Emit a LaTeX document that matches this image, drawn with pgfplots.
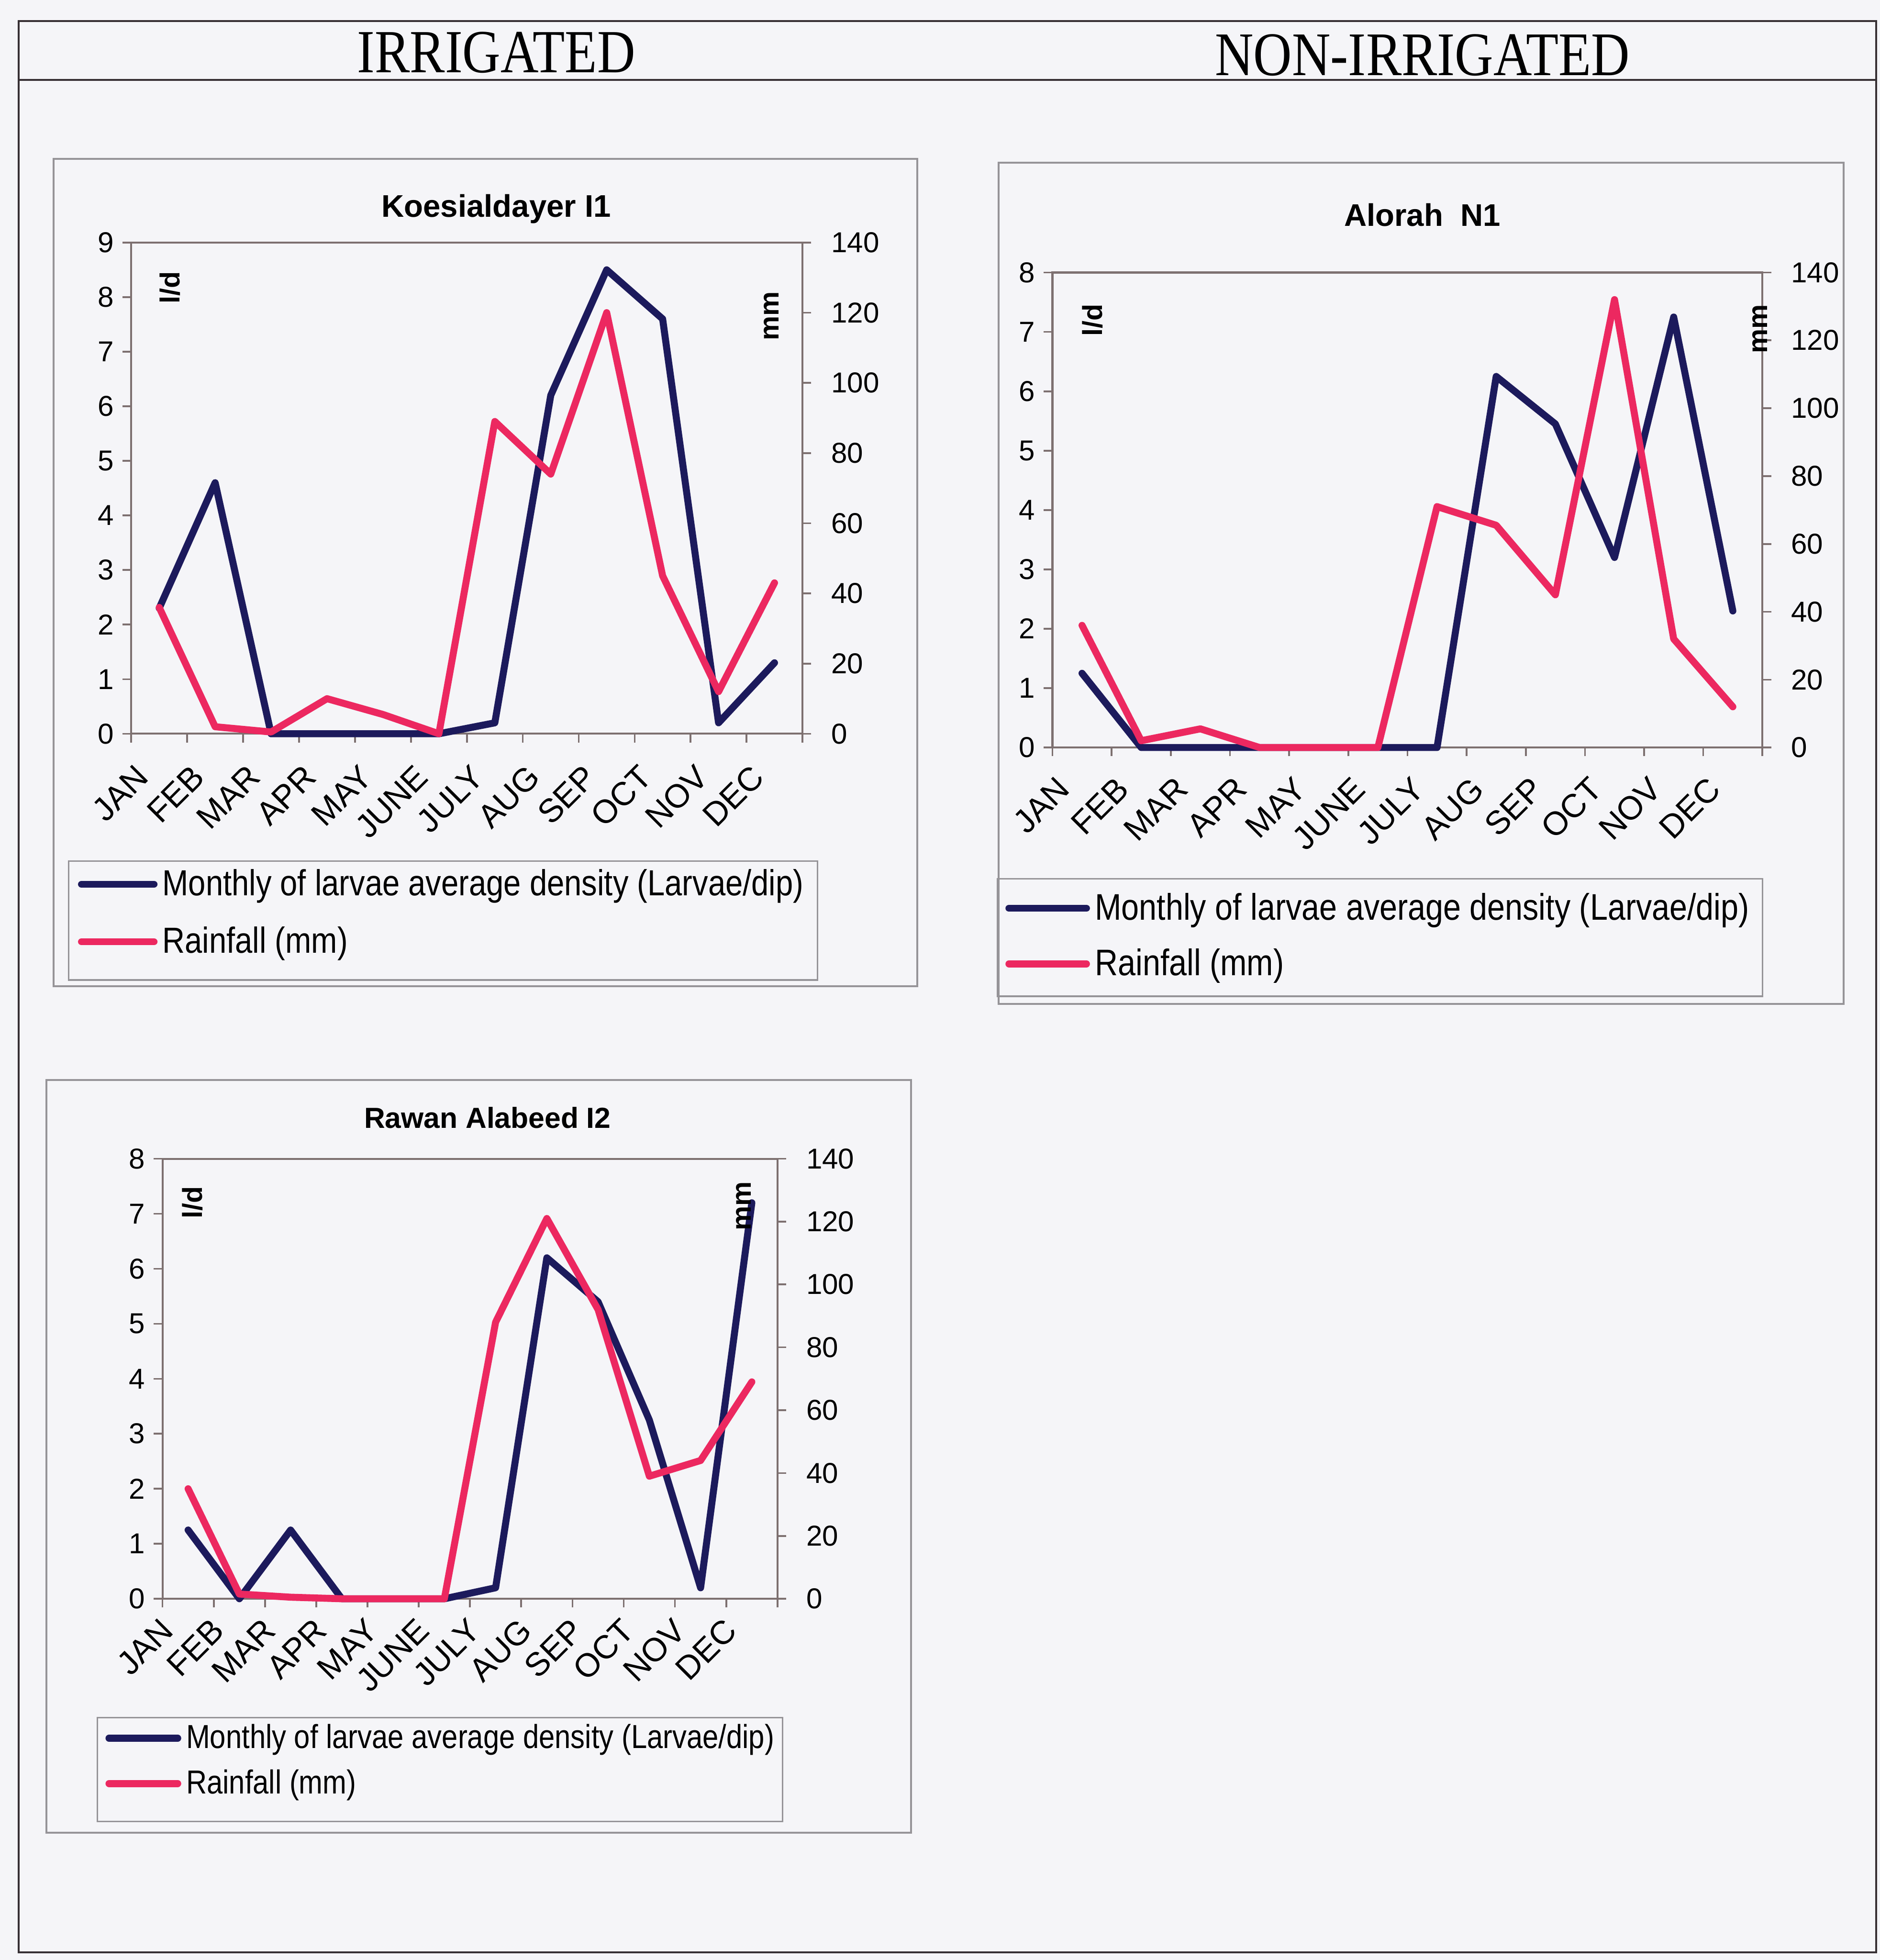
\documentclass[border=0pt]{standalone}
\usepackage{pgfplots}
\pgfplotsset{compat=1.18}
\usepackage{fontspec}
\setmainfont{Liberation Sans}
\newfontfamily\legendfont{Liberation Sans}[FakeStretch=0.86]
\newfontfamily\headfont{Liberation Serif}[FakeStretch=0.86]

\definecolor{pagebg}{RGB}{245,245,248}
\definecolor{density}{RGB}{28,26,92}
\definecolor{rain}{RGB}{236,40,96}
\definecolor{axisgray}{RGB}{125,112,112}
\definecolor{framegray}{RGB}{150,148,152}
\definecolor{rulegray}{RGB}{55,48,52}

\pgfplotsset{
  months/.style={
    scale only axis, anchor=south west, clip=false,
    xmin=-0.5, xmax=11.5,
    xtick={0,...,11},
    xticklabels={JAN,FEB,MAR,APR,MAY,JUNE,JULY,AUG,SEP,OCT,NOV,DEC},
    minor xtick={-0.5,0.5,...,11.5},
    major x tick style={draw=none},
    xtick pos=bottom, ytick pos=left, tick align=outside,
    major tick length=3.5pt, minor tick length=3.5pt,
    axis line style={axisgray, line width=0.8pt},
    tick style={axisgray, line width=0.7pt},
    xticklabel style={xshift=-10pt, yshift=-8pt, rotate=45, anchor=north east, inner sep=0pt,
      font=\fontsize{13.2}{14}\selectfont},
    yticklabel style={font=\fontsize{11.5}{12}\selectfont},
    /pgf/number format/assume math mode=true,
    ymin=0,
    title style={font=\bfseries\fontsize{12.5}{14}\selectfont, anchor=center, inner sep=0pt, yshift=-7pt},
    ylabel style={font=\bfseries\fontsize{11}{12}\selectfont, anchor=center, inner sep=0pt},
    legend cell align=left,
  },
  rainaxis/.style={
    scale only axis, anchor=south west, clip=false,
    xmin=-0.5, xmax=11.5,
    axis x line=none, axis y line*=right,
    ymin=0, ymax=140, ytick={0,20,...,140},
    tick align=outside, major tick length=3.5pt,
    axis line style={axisgray, line width=0.8pt},
    tick style={axisgray, line width=0.7pt},
    yticklabel style={font=\fontsize{11.5}{12}\selectfont, xshift=4.5pt},
    /pgf/number format/assume math mode=true,
    ylabel style={font=\bfseries\fontsize{11}{12}\selectfont, anchor=center, inner sep=0pt},
  },
  densityline/.style={density, line width=2.8pt, line join=round, line cap=round},
  rainline/.style={rain, line width=2.8pt, line join=round, line cap=round},
  legendbox/.style={draw=none, fill=none, inner xsep=3.5pt, inner ysep=5pt, cells={anchor=west}},
}

\begin{document}
\begin{tikzpicture}
% page, frame and column headings
\begin{scope}[x=0.5pt, y=-0.5pt]
  \fill[pagebg] (0,0) rectangle (1504,1568);
  \draw[rulegray, line width=0.8pt] (15,17) rectangle (1501,1562);
  \draw[rulegray, line width=0.8pt] (15,64) -- (1501,64);
  \node[font=\headfont\fontsize{24.5}{26}\selectfont, inner sep=0pt] at (397,42) {IRRIGATED};
  \node[font=\headfont\fontsize{24.8}{26}\selectfont, inner sep=0pt] at (1138,44) {NON-IRRIGATED};
  % chart frames
  \draw[framegray, line width=0.75pt] (43,127) rectangle (734,789);
  \draw[framegray, line width=0.75pt] (799,130) rectangle (1475,803);
  \draw[framegray, line width=0.75pt] (37,864) rectangle (729,1466);
  % legend frames
  \draw[framegray, line width=0.6pt] (55,689) rectangle (654,784);
  \draw[framegray, line width=0.6pt] (798,703) rectangle (1410,797);
  \draw[framegray, line width=0.6pt] (78,1374) rectangle (626,1457);
\end{scope}

% ---------------- Koesialdayer I1 ----------------
\begin{axis}[months, at={(52.5pt,-293.5pt)}, width=268.5pt, height=196.5pt,
  ymax=9, ytick={0,...,9},
  title={Koesialdayer I1}, title style={at={(0.5438,1.0738)}},
  ylabel={l/d}, ylabel style={at={(0.0577,0.908)}},
  legend image code/.code={\draw[#1] (0pt,0pt) -- (29pt,0pt);},
  legend style={legendbox, at={(-0.0931,-0.2392)}, anchor=north west, row sep=7pt,
    font=\legendfont\fontsize{14.5}{16}\selectfont},
]
\addplot[densityline] coordinates {(0,2.3) (1,4.6) (2,0) (3,0) (4,0) (5,0) (6,0.2) (7,6.2) (8,8.5) (9,7.6) (10,0.2) (11,1.3)};
\addlegendentry{Monthly of larvae average density (Larvae/dip)}
\addlegendimage{rainline}
\addlegendentry{Rainfall (mm)}
\end{axis}
\begin{axis}[rainaxis, at={(52.5pt,-293.5pt)}, width=268.5pt, height=196.5pt,
  ylabel={mm}, ylabel style={at={(0.9534,0.85)}}]
\addplot[rainline] coordinates {(0,36) (1,2) (2,0.5) (3,10) (4,5.5) (5,0) (6,89) (7,74) (8,120) (9,45) (10,12) (11,43)};
\end{axis}

% ---------------- Alorah N1 ----------------
\begin{axis}[months, at={(421pt,-299pt)}, width=284pt, height=190pt,
  ymax=8, ytick={0,...,8},
  xticklabel style={yshift=1pt},
  title={Alorah~~N1}, title style={at={(0.521,1.1263)}},
  ylabel={l/d}, ylabel style={at={(0.0563,0.9)}},
  legend image code/.code={\draw[#1] (0pt,0pt) -- (31pt,0pt);},
  legend style={legendbox, inner xsep=3pt, at={(-0.0775,-0.2684)}, anchor=north west, row sep=6pt,
    font=\legendfont\fontsize{14.8}{16}\selectfont},
]
\addplot[densityline] coordinates {(0,1.25) (1,0) (2,0) (3,0) (4,0) (5,0) (6,0) (7,6.25) (8,5.45) (9,3.2) (10,7.25) (11,2.3)};
\addlegendentry{Monthly of larvae average density (Larvae/dip)}
\addlegendimage{rainline}
\addlegendentry{Rainfall (mm)}
\end{axis}
\begin{axis}[rainaxis, at={(421pt,-299pt)}, width=284pt, height=190pt,
  ylabel={mm}, ylabel style={at={(0.9965,0.8816)}}]
\addplot[rainline] coordinates {(0,36) (1,2) (2,5.5) (3,0) (4,0) (5,0) (6,71) (7,65.5) (8,45) (9,132) (10,32) (11,12)};
\end{axis}

% ---------------- Rawan Alabeed I2 ----------------
\begin{axis}[months, at={(65pt,-639.5pt)}, width=246pt, height=176pt,
  ymax=8, ytick={0,...,8},
  xticklabel style={yshift=4.5pt, xshift=2pt},
  title={Rawan Alabeed I2}, title style={at={(0.5285,1.0994)}, font=\bfseries\fontsize{11.6}{13}\selectfont},
  ylabel={l/d}, ylabel style={at={(0.0488,0.9006)}},
  legend image code/.code={\draw[#1] (0pt,0pt) -- (27.5pt,0pt);},
  legend style={legendbox, inner xsep=3pt, inner ysep=4pt, at={(-0.1057,-0.25)}, anchor=north west, row sep=3pt,
    font=\legendfont\fontsize{13.3}{15}\selectfont},
]
\addplot[densityline] coordinates {(0,1.25) (1,0) (2,1.25) (3,0) (4,0) (5,0) (6,0.2) (7,6.2) (8,5.4) (9,3.25) (10,0.2) (11,7.2)};
\addlegendentry{Monthly of larvae average density (Larvae/dip)}
\addlegendimage{rainline}
\addlegendentry{Rainfall (mm)}
\end{axis}
\begin{axis}[rainaxis, at={(65pt,-639.5pt)}, width=246pt, height=176pt,
  ylabel={mm}, ylabel style={at={(0.9451,0.892)}}]
\addplot[rainline] coordinates {(0,35) (1,1.5) (2,0.5) (3,0) (4,0) (5,0) (6,88) (7,121) (8,92) (9,39) (10,44) (11,69)};
\end{axis}

\useasboundingbox (0pt,0pt) rectangle (752pt,-784pt);
\end{tikzpicture}
\end{document}
